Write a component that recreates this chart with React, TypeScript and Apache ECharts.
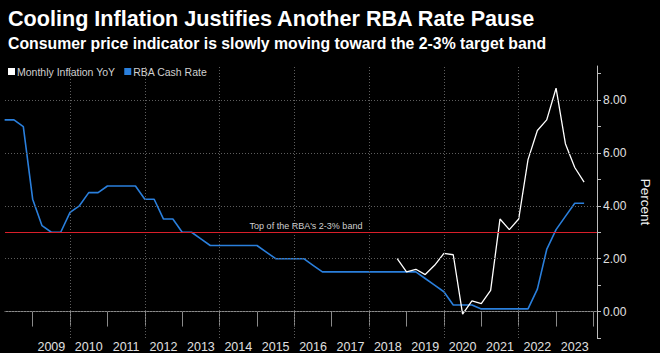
import React, { useEffect, useRef } from "react";
import * as echarts from "echarts";

const titleText = "Cooling Inflation Justifies Another RBA Rate Pause";
const subtitleText = "Consumer price indicator is slowly moving toward the 2-3% target band";

// Monthly CPI indicator, year-on-year %, quarterly samples
const inflationDates = [
  "2018-10", "2019-01", "2019-04", "2019-07", "2019-10", "2020-01", "2020-04",
  "2020-07", "2020-10", "2021-01", "2021-04", "2021-07", "2021-10", "2022-01",
  "2022-04", "2022-07", "2022-10", "2023-01", "2023-04", "2023-07", "2023-10",
];
const inflationValues = [
  2.0, 1.5, 1.6, 1.4, 1.75, 2.2, 2.15,
  -0.1, 0.4, 0.3, 0.8, 3.5, 3.1, 3.5,
  5.75, 6.85, 7.25, 8.45, 6.35, 5.45, 4.9,
];

// RBA cash rate %, quarterly samples from 2008-04 to 2023-10
const cashStart = "2008-04";
const cashValues = [
  7.25, 7.25, 7.0,
  4.25, 3.25, 3.0, 3.0,
  3.75, 4.0, 4.5, 4.5,
  4.75, 4.75, 4.75, 4.75,
  4.25, 4.25, 3.5, 3.5,
  3.0, 3.0, 2.75, 2.5,
  2.5, 2.5, 2.5, 2.5,
  2.5, 2.25, 2.0, 2.0,
  2.0, 2.0, 1.75, 1.5,
  1.5, 1.5, 1.5, 1.5,
  1.5, 1.5, 1.5, 1.5,
  1.5, 1.5, 1.25, 1.0,
  0.75, 0.25, 0.25, 0.25,
  0.1, 0.1, 0.1, 0.1,
  0.1, 0.1, 0.85, 2.35,
  3.1, 3.6, 4.1, 4.1,
];

const yearTicks = [2009, 2010, 2011, 2012, 2013, 2014, 2015, 2016, 2017, 2018, 2019, 2020, 2021, 2022, 2023, 2024];
const yearLabels = [2009, 2010, 2011, 2012, 2013, 2014, 2015, 2016, 2017, 2018, 2019, 2020, 2021, 2022, 2023];
const gridYears = [2010, 2012, 2014, 2016, 2018, 2020, 2022];
const yTickValues = [-1, 0, 1, 2, 3, 4, 5, 6, 7, 8, 9];
const yLabelValues = [0, 2, 4, 6, 8];
const bandTop = 3;
const bandLabel = "Top of the RBA's 2-3% band";

const toYear = (s: string) => {
  const [y, m] = s.split("-").map(Number);
  return y + (m - 1) / 12;
};

const FONT = "'Liberation Sans', Arial, sans-serif";

export default function App() {
  const ref = useRef<HTMLDivElement>(null);
  useEffect(() => {
    if (!ref.current) return;
    const chart = echarts.init(ref.current, undefined, { renderer: "svg" });
    const startYear = toYear(cashStart);
    const cashData = cashValues.map((v, i) => [startYear + i * 0.25, v]);
    const inflData = inflationDates.map((d, i) => [toYear(d), inflationValues[i]]);
    const gridLine = { color: "#5e5e5e", width: 1, type: [1, 2] as any };

    chart.setOption({
      animation: false,
      backgroundColor: "#000",
      textStyle: { fontFamily: FONT },
      title: [
        {
          text: titleText,
          left: 8,
          top: 7,
          padding: 0,
          textStyle: { color: "#fff", fontSize: 21.6, fontWeight: "bold", fontFamily: FONT, lineHeight: 22 },
        },
        {
          text: subtitleText,
          left: 8,
          top: 35,
          padding: 0,
          textStyle: { color: "#fff", fontSize: 15.8, fontWeight: "bold", fontFamily: FONT, lineHeight: 16 },
        },
      ],
      legend: {
        left: 8,
        top: 66,
        padding: 0,
        icon: "rect",
        itemWidth: 7,
        itemHeight: 7,
        itemGap: 9,
        data: ["Monthly Inflation YoY", "RBA Cash Rate"],
        textStyle: { color: "#d0d0d0", fontSize: 10.5, fontFamily: FONT, padding: [0, 0, 0, -3] },
      },
      grid: { left: 5, right: 60, top: 66, bottom: 14.2 },
      xAxis: {
        type: "value",
        min: 2008.26,
        max: 2024.095,
        axisLine: { show: true, lineStyle: { color: "#8a8a8a", width: 1 } },
        axisTick: {
          show: true,
          customValues: yearTicks,
          length: 15,
          lineStyle: { color: "#8a8a8a", width: 1 },
        },
        axisLabel: {
          customValues: yearLabels.map((y) => y + 0.5),
          formatter: (v: number) => String(Math.floor(v)),
          color: "#e0e0e0",
          fontSize: 12.5,
          margin: 2,
          fontFamily: FONT,
        },
        splitLine: { show: false },
      },
      yAxis: {
        type: "value",
        position: "right",
        min: -1,
        max: 9.29,
        name: "Percent",
        nameLocation: "middle",
        nameRotate: -90,
        nameGap: 41,
        nameTextStyle: { color: "#f0f0f0", fontSize: 13.5, fontFamily: FONT },
        axisLine: { show: true, lineStyle: { color: "#bdbdbd", width: 1 } },
        axisTick: {
          show: true,
          customValues: yTickValues,
          length: 4,
          lineStyle: { color: "#bdbdbd" },
        },
        axisLabel: {
          customValues: yLabelValues,
          formatter: (v: number) => v.toFixed(2),
          color: "#e0e0e0",
          fontSize: 12,
          margin: 6,
          fontFamily: FONT,
        },
        splitLine: { show: false },
      },
      series: [
        {
          name: "grid",
          type: "line",
          data: [],
          silent: true,
          z: 1,
          markLine: {
            silent: true,
            symbol: ["none", "none"],
            label: { show: false },
            lineStyle: gridLine,
            data: [
              ...gridYears.map((y) => ({ xAxis: y })),
              ...yLabelValues.map((v) => ({ yAxis: v })),
            ],
          },
        },
        {
          name: "band",
          type: "line",
          data: [],
          silent: true,
          z: 2,
          markLine: {
            silent: true,
            symbol: ["none", "none"],
            lineStyle: { color: "#d81f2a", width: 1, type: "solid" },
            label: {
              show: true,
              position: "insideMiddleTop",
              formatter: bandLabel,
              color: "#cfcfcf",
              fontSize: 9,
              distance: 2,
              offset: [5, 0],
              fontFamily: FONT,
            },
            data: [{ yAxis: bandTop }],
          },
        },
        {
          name: "Monthly Inflation YoY",
          type: "line",
          data: inflData,
          showSymbol: false,
          symbol: "none",
          z: 4,
          color: "#ffffff",
          lineStyle: { color: "#ffffff", width: 1.3 },
        },
        {
          name: "RBA Cash Rate",
          type: "line",
          data: cashData,
          showSymbol: false,
          symbol: "none",
          z: 3,
          color: "#2a7fdc",
          lineStyle: { color: "#2a7fdc", width: 1.6 },
        },
      ],
    });
    return () => chart.dispose();
  }, []);
  return (
    <div
      ref={ref}
      style={{ position: "fixed", left: 0, top: 0, width: 660, height: 353, background: "#000" }}
    />
  );
}
